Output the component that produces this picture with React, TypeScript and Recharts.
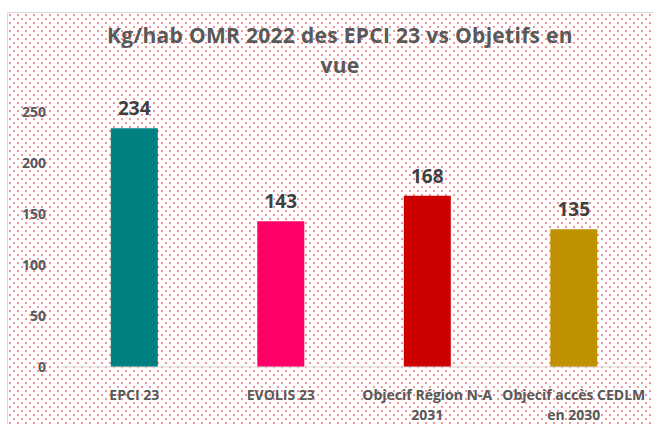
import { BarChart, Bar, XAxis, YAxis, Cell, LabelList } from "recharts";

const categories = ["EPCI 23", "EVOLIS 23", "Objecif Région N-A\n2031", "Objecif accès CEDLM\nen 2030"];
const values = [234, 143, 168, 135];
const barColors = ["#008080", "#ff0066", "#cc0000", "#bf9000"];
const yTicks = [0, 50, 100, 150, 200, 250];
const titleLines = ["Kg/hab OMR 2022 des EPCI 23 vs Objetifs en", "vue"];

const data = categories.map((name, i) => ({ name, value: values[i] }));

const FONT = "'Open Sans', Lato, sans-serif";

const dots =
  "url(\"data:image/svg+xml;utf8,<svg xmlns='http://www.w3.org/2000/svg' width='8' height='8'><rect x='1' y='1' width='2' height='2' fill='%23f49396'/><rect x='5' y='5' width='2' height='2' fill='%23f49396'/></svg>\")";

function CategoryTick(props: any) {
  const { x, y, payload } = props;
  const lines = String(payload.value).split("\n");
  return (
    <text x={x} y={y + 25} textAnchor="middle" fill="#595959" fontFamily={FONT} fontWeight={700} fontSize={14}>
      {lines.map((l, i) => (
        <tspan key={i} x={x} dy={i === 0 ? 0 : 20}>
          {l}
        </tspan>
      ))}
    </text>
  );
}

export default function App() {
  return (
    <div style={{ position: "absolute", left: 0, top: 0, width: 653, height: 424, overflow: "hidden", background: "#fff" }}>
      <div
        style={{
          position: "absolute",
          left: 7,
          top: 12,
          width: 670,
          height: 440,
          border: "1px solid #d9d9d9",
          backgroundImage: dots,
        }}
      />
      <svg width={653} height={90} style={{ position: "absolute", left: 0, top: 0 }}>
        {titleLines.map((t, i) => (
          <text
            key={i}
            x={340}
            y={43 + i * 30}
            textAnchor="middle"
            fill="#595959"
            fontFamily={FONT}
            fontWeight={700}
            fontSize={21}
            letterSpacing={0.3}
          >
            {t}
          </text>
        ))}
      </svg>
      <div style={{ position: "absolute", left: 0, top: 0 }}>
        <BarChart width={653} height={424} data={data} margin={{ top: 112, right: 6, bottom: 0, left: 0 }} barCategoryGap="34%">
          <XAxis
            dataKey="name"
            height={57}
            tickLine={false}
            axisLine={{ stroke: "#d9d9d9" }}
            tick={<CategoryTick />}
            interval={0}
          />
          <YAxis
            width={61}
            domain={[0, 250]}
            ticks={yTicks}
            axisLine={false}
            tickLine={false}
            tickMargin={9}
            tick={{ fill: "#595959", fontFamily: FONT, fontWeight: 700, fontSize: 14 }}
          />
          <Bar dataKey="value" isAnimationActive={false}>
            {data.map((d, i) => (
              <Cell key={d.name} fill={barColors[i]} />
            ))}
            <LabelList
              dataKey="value"
              position="top"
              offset={13}
              fill="#404040"
              fontFamily={FONT}
              fontWeight={700}
              fontSize={19}
            />
          </Bar>
        </BarChart>
      </div>
    </div>
  );
}
